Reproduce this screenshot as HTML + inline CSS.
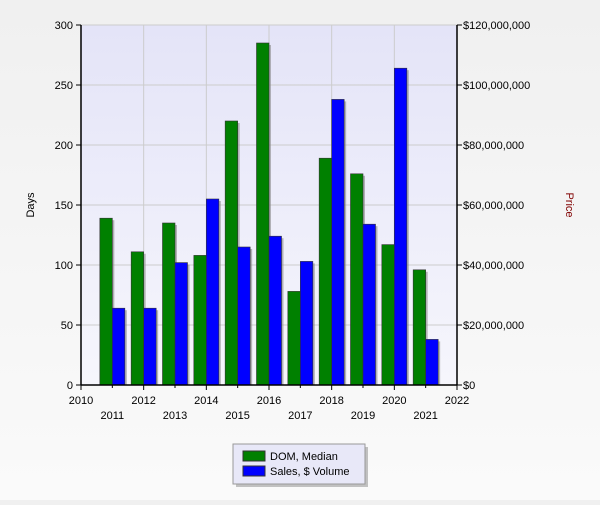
<!DOCTYPE html>
<html><head><meta charset="utf-8"><style>
body{margin:0;width:600px;height:500px;background:linear-gradient(#f0f0f0,#fafafa);font-family:"Liberation Sans",sans-serif;overflow:hidden}
svg text{font-family:"Liberation Sans",sans-serif;font-size:11px}
</style></head><body>
<svg id="c" width="600" height="500">
<defs><linearGradient id="pg" x1="0" y1="0" x2="0" y2="1"><stop offset="0" stop-color="#e4e4f8"/><stop offset="1" stop-color="#f6f6fc"/></linearGradient></defs>
<rect x="81" y="25" width="376" height="360" fill="url(#pg)"/>
<g id="grid"></g><g id="bars"></g><g id="axes"></g>
<text x="34" y="205" transform="rotate(-90 34 205)" text-anchor="middle">Days</text>
<text x="566" y="205" transform="rotate(90 566 205)" text-anchor="middle" fill="#800000">Price</text>
<g>
<rect x="236" y="447" width="132" height="40" fill="#888" opacity="0.5"/>
<rect x="233" y="444" width="132" height="40" fill="#e8e8f8" stroke="#999"/>
<rect x="243" y="451" width="22" height="10" fill="#008000" stroke="#333"/>
<text x="270" y="460">DOM, Median</text>
<rect x="243" y="466" width="22" height="10" fill="#0000ff" stroke="#333"/>
<text x="270" y="475">Sales, $ Volume</text>
</g>
</svg>
<script>
const years=[2011,2012,2013,2014,2015,2016,2017,2018,2019,2020,2021];
const domMedian=[139,111,135,108,220,285,78,189,176,117,96];
const salesVolume=[25.6e6,25.6e6,40.8e6,62e6,46e6,49.6e6,41.2e6,95.2e6,53.6e6,105.6e6,15.2e6];
const leftTicks=[0,50,100,150,200,250,300];
const rightTicks=[0,20e6,40e6,60e6,80e6,100e6,120e6];
const xTicks=[2010,2011,2012,2013,2014,2015,2016,2017,2018,2019,2020,2021,2022];
const NS="http://www.w3.org/2000/svg";
const X0=81,X1=457,Y0=385,Y1=25;
const xs=v=>X0+(v-2010)/12*(X1-X0);
const yl=v=>Y0-v/300*(Y0-Y1);
const yr=v=>Y0-v/120e6*(Y0-Y1);
function mk(p,t,a){const e=document.createElementNS(NS,t);for(const k in a)e.setAttribute(k,a[k]);document.getElementById(p).appendChild(e);return e;}
leftTicks.forEach(v=>{if(v>0){const g=mk('grid','line',{x1:X0,x2:X1,y1:yl(v),y2:yl(v),stroke:'#ccc'});

}});
xTicks.forEach(v=>{if(v%2==0&&v>2010&&v<2022){const g=mk('grid','line',{x1:xs(v),x2:xs(v),y1:Y1,y2:Y0,stroke:'#ccc'});

}});
const bw=12.5;
years.forEach((yr_,i)=>{const c=xs(yr_);
let h=Y0-yl(domMedian[i]);
mk('bars','rect',{x:c-bw+2,y:yl(domMedian[i])+2,width:bw,height:h-2,fill:'#888',opacity:0.6});
const g=mk('bars','rect',{x:c-bw,y:yl(domMedian[i]),width:bw,height:h,fill:'#008000',stroke:'#333','stroke-width':0.6});


h=Y0-yr(salesVolume[i]);
mk('bars','rect',{x:c+2,y:yr(salesVolume[i])+2,width:bw,height:h-2,fill:'#888',opacity:0.6});
const b=mk('bars','rect',{x:c,y:yr(salesVolume[i]),width:bw,height:h,fill:'#0000ff',stroke:'#333','stroke-width':0.6});


});
mk('axes','line',{x1:X0,x2:X0,y1:Y1,y2:Y0,stroke:'#000','stroke-width':1.5});
mk('axes','line',{x1:X1,x2:X1,y1:Y1,y2:Y0,stroke:'#000','stroke-width':1.5});
mk('axes','line',{x1:X0,x2:X1,y1:Y0,y2:Y0,stroke:'#000','stroke-width':1.5});
leftTicks.forEach(v=>{mk('axes','line',{x1:X0-5,x2:X0,y1:yl(v),y2:yl(v),stroke:'#000'});
const t=mk('axes','text',{x:X0-8,y:yl(v)+4,'text-anchor':'end'});t.textContent=v;

});
rightTicks.forEach(v=>{mk('axes','line',{x1:X1,x2:X1+5,y1:yr(v),y2:yr(v),stroke:'#000'});
const t=mk('axes','text',{x:X1+6,y:yr(v)+4});t.textContent='$'+v.toLocaleString('en-US');

});
xTicks.forEach(v=>{const even=v%2==0;
mk('axes','line',{x1:xs(v),x2:xs(v),y1:Y0,y2:Y0+(even?5:3),stroke:'#000'});
const t=mk('axes','text',{x:xs(v),y:even?404:419,'text-anchor':'middle'});t.textContent=v;

});
</script>
</body></html>
